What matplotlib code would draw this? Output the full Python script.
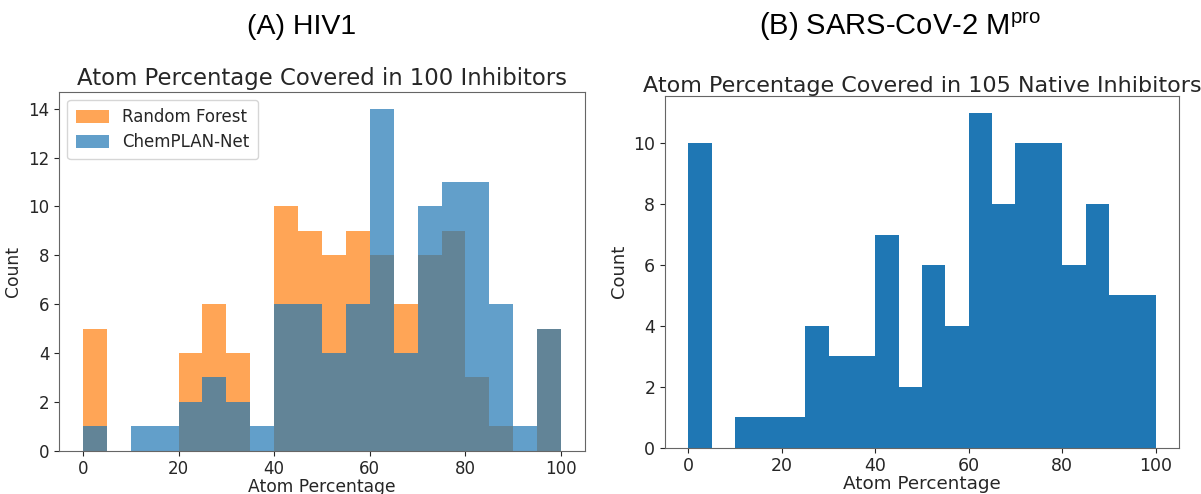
import matplotlib
matplotlib.use("Agg")
import matplotlib.pyplot as plt
import numpy as np

# bin edges shared by all histograms (width 5, 0..100)
edges = np.arange(0, 105, 5)
centers = edges[:-1] + 2.5

# (A) HIV1 - counts per bin
rf_counts = [5, 0, 0, 0, 4, 6, 4, 0, 10, 9, 8, 9, 8, 6, 8, 9, 3, 1, 0, 5]
chem_counts = [1, 0, 1, 1, 2, 3, 2, 1, 6, 6, 4, 6, 14, 4, 10, 11, 11, 6, 1, 5]

# (B) SARS-CoV-2 Mpro - counts per bin
native_counts = [10, 0, 1, 1, 1, 4, 3, 3, 7, 2, 6, 4, 11, 8, 10, 10, 6, 8, 5, 5]

plt.rcParams['font.family'] = 'DejaVu Sans'
plt.rcParams['text.color'] = '#262626'
plt.rcParams['axes.labelcolor'] = '#262626'
plt.rcParams['xtick.color'] = '#262626'
plt.rcParams['ytick.color'] = '#262626'
plt.rcParams['axes.edgecolor'] = '#666666'
plt.rcParams['mathtext.fontset'] = 'custom'
plt.rcParams['mathtext.rm'] = 'Liberation Sans'

fig = plt.figure(figsize=(12.01, 4.94), dpi=100)
ax1 = fig.add_axes([59/1201, 1 - 450.7/494, 526/1201, 359/494])
ax2 = fig.add_axes([665/1201, 1 - 447.7/494, 514/1201, 351.7/494])

# Bild A: zwei ueberlagerte Histogramme
ax1.hist(centers, bins=edges, weights=rf_counts, color='tab:orange', alpha=0.7, label='Random Forest')
ax1.hist(centers, bins=edges, weights=chem_counts, color='tab:blue', alpha=0.7, label='ChemPLAN-Net')
ax1.set_title("Atom Percentage Covered in 100 Inhibitors", fontsize=16.4, pad=5)
ax1.set_xlabel("Atom Percentage", fontsize=12.3, labelpad=0)
ax1.set_ylabel("Count", fontsize=12.3)
ax1.set_yticks(range(0, 15, 2))
ax1.tick_params(labelsize=12)
ax1.legend(loc='upper left', fontsize=12, handlelength=2.0, handleheight=0.8,
           borderpad=0.5, labelspacing=0.4)

# Bild B
ax2.hist(centers, bins=edges, weights=native_counts, color='#1f77b4')
ax2.set_title("Atom Percentage Covered in 105 Native Inhibitors", fontsize=16, pad=3)
ax2.set_xlabel("Atom Percentage", fontsize=13.2, labelpad=0)
ax2.set_ylabel("Count", fontsize=13)
ax2.set_yticks(range(0, 11, 2))
ax2.tick_params(labelsize=12.5)

# Ueberschriften
fig.text(0.251, 0.945, "(A) HIV1", fontsize=20.5, family='Liberation Sans',
         ha='center', va='center', color='black')
fig.text(0.749, 0.945, r"(B) SARS-CoV-2 M$^{\mathrm{pro}}$", fontsize=21,
         family='Liberation Sans', ha='center', va='center', color='black')

plt.savefig("out.png", dpi=100)
